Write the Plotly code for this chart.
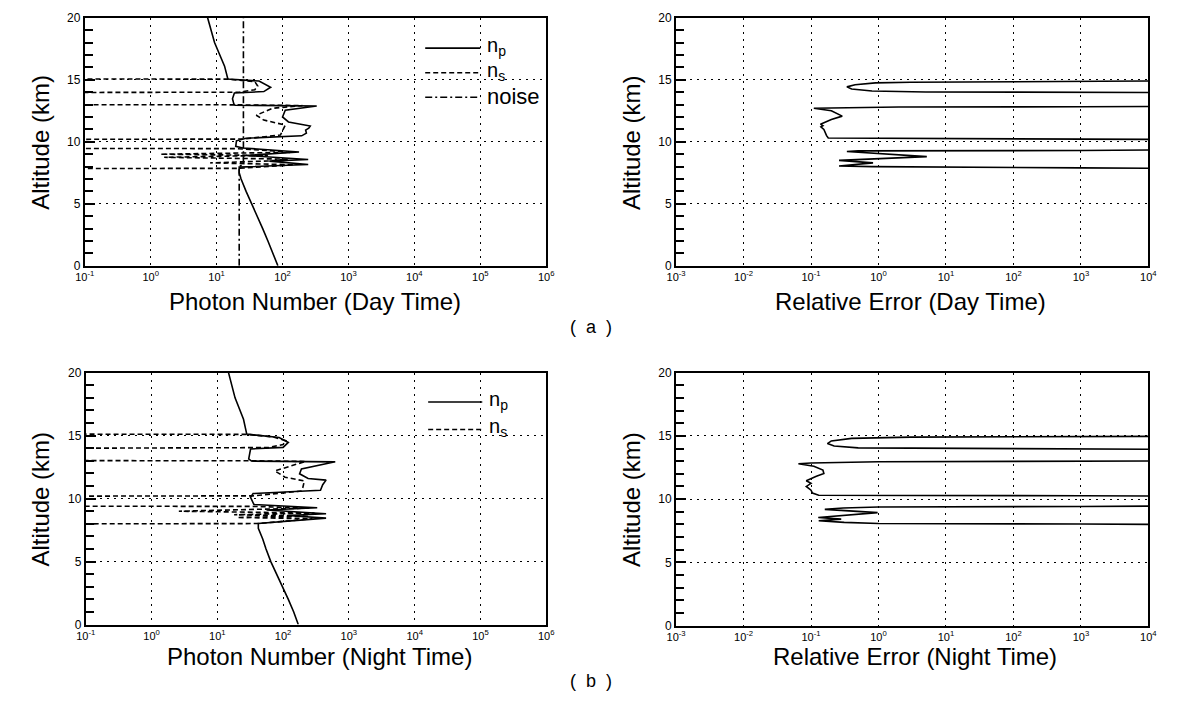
import plotly.graph_objects as go

# ---------------- data ----------------
# Day time photon numbers
day_np_alt = [0, 1, 2, 3, 4, 5, 6, 7, 7.5, 7.96, 8.17, 8.44, 8.57, 8.9, 9.18, 9.5, 9.63,
              10.08, 10.29, 10.48, 10.7, 10.95, 11.1, 11.27, 11.6, 12.0, 12.54, 12.88,
              12.95, 13.07, 13.47, 13.94, 14.05, 14.4, 14.9, 15.06, 16.1, 18.0, 20.0]
day_np = [85, 72, 60, 50, 41, 34, 28, 23.5, 22, 22, 245, 63, 245, 28, 178, 25, 19.5,
          20, 28, 195, 230, 224, 250, 263, 123, 100, 110, 330,
          19, 18.2, 17.4, 18.6, 52, 66, 44, 14.8, 13.2, 9.3, 7.3]

day_ns_alt = [0, 7.83, 7.86, 8.0, 8.15, 8.3, 8.45, 8.6, 8.75, 8.9, 9.0, 9.15, 9.3, 9.45, 9.47,
              10.18, 10.22, 10.55, 10.95, 11.35, 11.75, 12.14, 12.7, 12.92, 12.98, 13.0,
              13.96, 14.0, 14.2, 14.5, 14.85, 15.05, 15.08, 20]
day_ns = [1e-3, 1e-3, 22, 60, 150, 8, 60, 120, 1.6, 60, 1.4, 130, 60, 20, 1e-3,
          1e-3, 25, 93, 100, 110, 52, 40, 70, 200, 20, 1e-3,
          1e-3, 22, 38, 42, 38, 15, 1e-3, 1e-3]

day_noise_alt = [0, 8.0, 8.2, 20]
day_noise = [22, 22, 25.5, 25.5]

# Day time relative error
day_err_alt = [0, 7.8, 7.9, 7.95, 8.0, 8.05, 8.3, 8.5, 8.8, 9.22, 9.27, 9.3, 9.4,
               10.15, 10.22, 10.25, 10.3, 10.5, 11.0, 11.2, 11.3, 11.42, 11.8, 12.07, 12.5,
               12.7, 12.75, 12.8, 12.82, 12.9,
               13.95, 13.99, 14.02, 14.1, 14.25, 14.43, 14.6, 14.75, 14.8, 14.88, 14.95, 20]
day_err = [1e6, 1e6, 1e3, 3, 0.8, 0.26, 0.83, 0.26, 5.2, 0.34, 0.5, 1e3, 1e6,
           1e6, 1e3, 0.4, 0.18, 0.17, 0.155, 0.14, 0.15, 0.138, 0.2, 0.29, 0.2,
           0.11, 0.3, 2, 1e3, 1e6,
           1e6, 2e3, 5, 0.8, 0.4, 0.34, 0.45, 0.9, 3, 2e3, 1e6, 1e6]

# Night time photon numbers
night_np_alt = [0, 1, 2, 3, 4, 5, 6, 6.8, 7.64, 8.03, 8.45, 8.66, 8.8, 9.1, 9.27, 9.53,
                10.1, 10.4, 10.66, 11.1, 11.47, 11.6, 11.97, 12.36, 12.92, 12.98, 13.15,
                13.94, 14.07, 14.46, 14.85, 15.12, 16.3, 18.0, 20.0]
night_np = [170, 145, 120, 97, 79, 65, 55, 49, 42, 42, 450, 115, 450, 56, 330, 36,
            32, 35, 370, 400, 450, 240, 178, 190, 620, 33, 30,
            32, 100, 120, 87, 28, 25, 18.6, 14.8]

night_ns_alt = [0, 7.98, 8.02, 8.4, 8.5, 8.6, 8.72, 8.85, 9.0, 9.25, 9.38, 9.41,
                10.18, 10.22, 10.6, 10.9, 11.4, 11.7, 12.2, 12.75, 12.95, 13.0, 13.03,
                13.97, 14.0, 14.05, 14.3, 14.6, 14.9, 15.1, 15.13, 20]
night_ns = [1e-3, 1e-3, 42, 280, 20, 250, 18, 300, 2.6, 250, 35, 1e-3,
            1e-3, 35, 190, 200, 210, 107, 75, 170, 220, 35, 1e-3,
            1e-3, 32, 60, 100, 110, 70, 28, 1e-3, 1e-3]

# Night time relative error
night_err_alt = [0, 7.95, 8.03, 8.07, 8.16, 8.29, 8.42, 8.55, 8.93, 9.19, 9.3, 9.38, 9.42, 9.5,
                 10.2, 10.27, 10.3, 10.48, 10.7, 11.0, 11.25, 11.45, 11.8, 12.02, 12.3, 12.6,
                 12.79, 12.85, 12.95, 13.0, 13.05,
                 13.9, 13.95, 13.98, 14.05, 14.2, 14.39, 14.6, 14.8, 14.9, 14.95, 15.0, 20]
night_err = [1e6, 1e6, 1e3, 1, 0.31, 0.13, 0.28, 0.128, 0.97, 0.16, 0.3, 1, 1e3, 1e6,
             1e6, 1e3, 0.13, 0.105, 0.1, 0.085, 0.1, 0.085, 0.12, 0.155, 0.15, 0.11,
             0.065, 0.1, 1, 1e3, 1e6,
             1e6, 1e3, 5, 0.5, 0.22, 0.175, 0.2, 0.4, 3, 1e3, 1e6, 1e6]

photon_ticks = [1e-1, 1e0, 1e1, 1e2, 1e3, 1e4, 1e5, 1e6]
photon_ticktext = ["10<sup>-1</sup>", "10<sup>0</sup>", "10<sup>1</sup>", "10<sup>2</sup>",
                   "10<sup>3</sup>", "10<sup>4</sup>", "10<sup>5</sup>", "10<sup>6</sup>"]
error_ticks = [1e-3, 1e-2, 1e-1, 1e0, 1e1, 1e2, 1e3, 1e4]
error_ticktext = ["10<sup>-3</sup>", "10<sup>-2</sup>", "10<sup>-1</sup>", "10<sup>0</sup>",
                  "10<sup>1</sup>", "10<sup>2</sup>", "10<sup>3</sup>", "10<sup>4</sup>"]
alt_ticks = [0, 5, 10, 15, 20]

# ---------------- figure ----------------
W, H = 1180, 710
FONT = "Liberation Sans, Arial, sans-serif"
GRID_DASH = "2px,5px"
NS_DASH = "5px,3px"
NOISE_DASH = "7px,3px,2px,3px"

def px_x(v):
    return v / W

def px_y(v):
    return 1 - v / H

fig = go.Figure()

line_w = 1.6
def add_line(x, y, xa, ya, dash="solid"):
    fig.add_trace(go.Scatter(x=x, y=y, xaxis=xa, yaxis=ya, mode="lines",
                             line=dict(color="black", width=line_w, dash=dash),
                             showlegend=False, hoverinfo="skip"))

add_line(day_np, day_np_alt, "x", "y")
add_line(day_ns, day_ns_alt, "x", "y", NS_DASH)
add_line(day_noise, day_noise_alt, "x", "y", NOISE_DASH)
add_line(day_err, day_err_alt, "x2", "y2")
add_line(night_np, night_np_alt, "x3", "y3")
add_line(night_ns, night_ns_alt, "x3", "y3", NS_DASH)
add_line(night_err, night_err_alt, "x4", "y4")

# panel pixel boxes: (left, right, top, bottom)
boxes = {
    "": (76, 545, 11, 264),
    "2": (677, 1157, 11, 264),
    "3": (77, 545, 373, 630),
    "4": (677, 1157, 373, 631),
}

def xaxis_cfg(dom, ticks, ticktext, rng):
    return dict(type="log", domain=dom, range=rng, tickvals=ticks, ticktext=ticktext,
                showline=True, linecolor="black", linewidth=2, mirror=True,
                showgrid=True, gridcolor="black", gridwidth=1.3, griddash=GRID_DASH,
                ticks="", zeroline=False,
                tickfont=dict(family=FONT, size=11, color="black"))

def yaxis_cfg(dom, anchor):
    return dict(domain=dom, range=[0, 20], tickvals=alt_ticks, anchor=anchor,
                showline=True, linecolor="black", linewidth=2, mirror=True,
                showgrid=True, gridcolor="black", gridwidth=1.3, griddash=GRID_DASH,
                ticks="inside", ticklen=10, tickwidth=1.5, tickcolor="black",
                minor=dict(dtick=1, ticks="inside", ticklen=8, tickwidth=1.5,
                           tickcolor="black", showgrid=False),
                zeroline=False,
                tickfont=dict(family=FONT, size=12, color="black"))

layout = {}
for key, (l, r, t, b) in boxes.items():
    xdom = [px_x(l), px_x(r)]
    ydom = [px_y(b), px_y(t)]
    if key in ("", "3"):
        layout["xaxis" + key] = xaxis_cfg(xdom, photon_ticks, photon_ticktext, [-1, 6])
    else:
        layout["xaxis" + key] = xaxis_cfg(xdom, error_ticks, error_ticktext, [-3, 4])
    layout["xaxis" + key]["anchor"] = "y" + key
    layout["yaxis" + key] = yaxis_cfg(ydom, "x" + key)

fig.update_layout(**layout)

annotations = []
def text(x, y, s, size=24, angle=0, xanchor="center", yanchor="middle"):
    annotations.append(dict(x=px_x(x), y=px_y(y), xref="paper", yref="paper", text=s,
                            showarrow=False, textangle=angle, xanchor=xanchor, yanchor=yanchor,
                            font=dict(family=FONT, size=size, color="black")))

text(31, 138, "Altitude (km)", angle=-90)
text(631, 138, "Altitude (km)", angle=-90)
text(31, 502, "Altitude (km)", angle=-90)
text(631, 502, "Altitude (km)", angle=-90)
text(310, 300, "Photon Number (Day Time)")
text(915, 300, "Relative Error (Day Time)")
text(315, 663, "Photon Number (Night Time)")
text(920, 663, "Relative Error (Night Time)")
text(590, 326, "(  a  )", size=18)
text(590, 688, "(  b  )", size=18)

# legends
text(483, 40, "n<sub>p</sub>", size=20, xanchor="left")
text(483, 66, "n<sub>s</sub>", size=20, xanchor="left")
text(483, 91, "noise", size=22, xanchor="left")
text(485, 401, "n<sub>p</sub>", size=20, xanchor="left")
text(485, 429, "n<sub>s</sub>", size=20, xanchor="left")

shapes = []
def leg_line(x0, x1, y, dash):
    shapes.append(dict(type="line", xref="paper", yref="paper",
                       x0=px_x(x0), x1=px_x(x1), y0=px_y(y), y1=px_y(y),
                       line=dict(color="black", width=line_w, dash=dash)))

leg_line(422, 478, 42, "solid")
leg_line(422, 478, 67, NS_DASH)
leg_line(422, 478, 92, NOISE_DASH)
leg_line(425, 480, 403, "solid")
leg_line(425, 480, 431, NS_DASH)

fig.update_layout(width=W, height=H, margin=dict(l=0, r=0, t=0, b=0),
                  paper_bgcolor="white", plot_bgcolor="white",
                  annotations=annotations, shapes=shapes, showlegend=False,
                  font=dict(family=FONT, color="black"))

fig.write_html("out.html")
